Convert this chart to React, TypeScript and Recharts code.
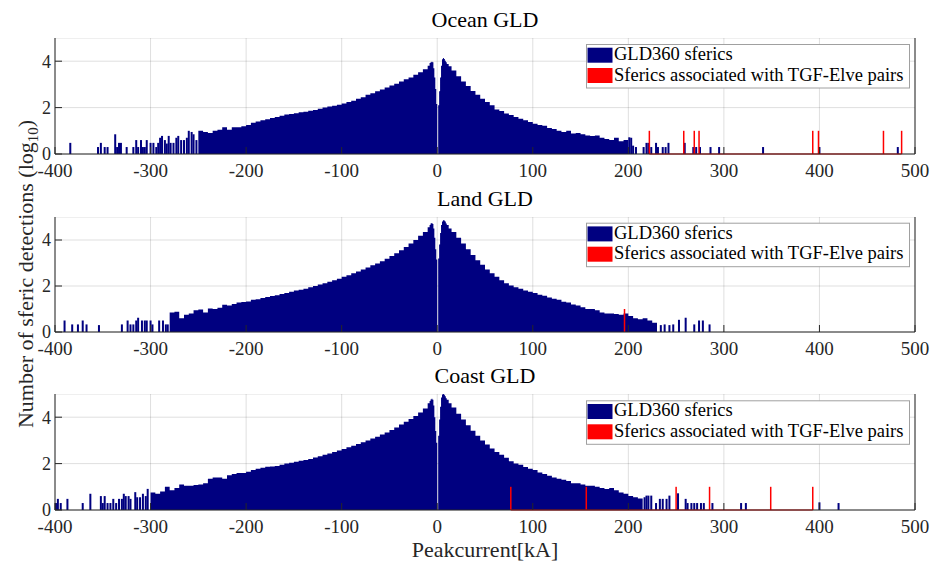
import React from "react";
import { ComposedChart, Area, Bar, XAxis, YAxis, CartesianGrid, ReferenceLine } from "recharts";

const NAVY = "#000080";
const RED = "#ff0000";
const INK = "#262626";
const FONT = '"Liberation Serif", "Times New Roman", serif';

const xTicks = [-400, -300, -200, -100, 0, 100, 200, 300, 400, 500];
const yTicks = [0, 2, 4];

// left edges of the histogram bins for the dense part (kA)
const coreEdges = [
  -300, -295, -290, -285, -280, -275, -270, -265, -260, -255,
  -250, -245, -240, -235, -230, -225, -220, -215, -210, -205,
  -200, -195, -190, -185, -180, -175, -170, -165, -160, -155,
  -150, -145, -140, -135, -130, -125, -120, -115, -110, -105,
  -100, -95, -90, -85, -80, -75, -70, -65, -60, -55,
  -50, -45, -40, -35, -30, -25, -20, -15, -10,
  -8, -7, -6, -5, -4, -3, -2, -1,
  0,
  1, 2, 3, 4, 5, 6, 7, 8, 9, 10,
  12,
  15, 20, 25, 30, 35, 40, 45, 50, 55, 60,
  65, 70, 75, 80, 85, 90, 95, 100, 105, 110,
  115, 120, 125, 130, 135, 140, 145, 150, 155, 160,
  165, 170, 175, 180, 185, 190, 195, 200, 205, 210,
  215, 220, 225, 230,
];

// log10 counts, Ocean GLD
const oceanCore = [
  null, null, null, null, null, null, null, null, null, null,
  1.0, 0.95, 0.9, 1.0, 1.05, 1.15, 1.05, 1.15, 1.15, 1.2,
  1.25, 1.35, 1.4, 1.45, 1.5, 1.55, 1.6, 1.65, 1.7, 1.72,
  1.76, 1.8, 1.82, 1.86, 1.9, 1.95, 2.0, 2.05, 2.08, 2.12,
  2.18, 2.24, 2.3, 2.38, 2.45, 2.55, 2.62, 2.7, 2.78, 2.87,
  2.95, 3.03, 3.12, 3.22, 3.3, 3.42, 3.52, 3.65, 3.8,
  3.92, 3.96, 3.98, 3.95, 3.7, 3.3, 2.8, 2.15,
  0,
  2.1, 2.7, 3.3, 3.8, 4.08, 4.14, 4.1, 4.02, 3.95, 3.88,
  3.78,
  3.6, 3.35, 3.12, 2.93, 2.72, 2.55, 2.38, 2.24, 2.1, 1.92,
  1.85, 1.75, 1.68, 1.6, 1.52, 1.45, 1.38, 1.3, 1.25, 1.22,
  1.12, 1.08, 1.0, 0.95, 1.0, 0.88, 0.9, 0.85, 0.8, 0.78,
  0.8, 0.7, 0.65, 0.6, 0.7, 0.55, 0.6, 0, null, null,
  null, null, null, null,
];

const oceanTail = [
  [-384, 0.48], [-355, 0.3], [-352, 0.48], [-348, 0.3], [-345, 0.3],
  [-337, 0.85], [-335, 0.3], [-333, 0.48], [-331, 0.48], [-325, 0.3],
  [-318, 0.3], [-315, 0.6], [-313, 0.3], [-310, 0.6], [-308, 0.3],
  [-306, 0.3], [-304, 0.6], [-300, 0.48], [-297, 0.48], [-294, 0.3],
  [-292, 0.48], [-290, 0.7], [-288, 0.78], [-285, 0.6], [-283, 0.45],
  [-281, 0.78], [-279, 0.48], [-276, 0.48], [-273, 0.7], [-271, 0.78],
  [-268, 0.6], [-265, 0.6], [-262, 0.7], [-260, 1.0], [-257, 0.95],
  [-255, 0.85], [-252, 0.6],
  [201, 0.72], [203, 0.7], [205, 0.36], [208, 0.3], [216, 0.3],
  [219, 0.48], [221, 0.48], [224, 0.3], [229, 0.48], [231, 0.3],
  [236, 0.3], [239, 0.3], [242, 0.48], [259, 0.48], [268, 0.3],
  [271, 0.3], [275, 0.3], [286, 0.3], [295, 0.3], [341, 0.3],
  [400, 0.3], [482, 0.3],
];

const oceanTgf = [
  [222, 1], [258, 1], [269, 1], [274, 1], [393, 1], [399, 1], [467, 1], [486, 1],
];

// Land GLD
const landCore = [
  null, null, null, null, 0.85, 0.88, 0.6, 0.75, 0.8, 0.95,
  0.98, 0.85, 1.02, 1.0, 1.05, 1.18, 1.15, 1.22, 1.28, 1.3,
  1.33, 1.4, 1.42, 1.48, 1.52, 1.56, 1.6, 1.65, 1.7, 1.75,
  1.8, 1.84, 1.88, 1.95, 2.0, 2.06, 2.12, 2.18, 2.25, 2.32,
  2.4, 2.47, 2.55, 2.63, 2.72, 2.8, 2.9, 2.98, 3.08, 3.18,
  3.3, 3.42, 3.55, 3.7, 3.85, 4.0, 4.18, 4.35, 4.55,
  4.65, 4.72, 4.74, 4.7, 4.5, 4.1, 3.6, 3.15,
  0,
  3.2, 3.8, 4.3, 4.65, 4.8, 4.86, 4.85, 4.8, 4.72, 4.65,
  4.5,
  4.35, 4.1, 3.85, 3.6, 3.35, 3.12, 2.92, 2.72, 2.55, 2.4,
  2.25, 2.12, 2.02, 1.95, 1.88, 1.8, 1.75, 1.7, 1.62, 1.58,
  1.5, 1.45, 1.4, 1.32, 1.28, 1.2, 1.15, 1.08, 1.0, 1.0,
  0.95, 0.85, 0.8, 0.8, 0.78, 0.75, 0.8, 0.7, 0.6, 0.55,
  0.6, 0.5, 0.4, 0,
];

const landTail = [
  [-390, 0.5], [-382, 0.33], [-376, 0.33], [-371, 0.5], [-367, 0.33],
  [-354, 0.3], [-330, 0.33], [-324, 0.5], [-321, 0.33], [-318, 0.33],
  [-315, 0.5], [-313, 0.62], [-309, 0.5], [-306, 0.5], [-304, 0.5],
  [-300, 0.5], [-298, 0.33], [-291, 0.5], [-287, 0.5], [-284, 0.33],
  [-282, 0.33],
  [234, 0.3], [238, 0.33], [243, 0.3], [247, 0.33], [253, 0.53],
  [260, 0.62], [269, 0.33], [274, 0.5], [278, 0.5], [285, 0.33],
];

const landTgf = [[196, 1]];

// Coast GLD
const coastCore = [
  0.75, 0.7, 0.8, 1.0, 0.85, 0.95, 1.1, 1.05, 1.05, 1.08,
  1.1, 1.15, 1.35, 1.4, 1.4, 1.35, 1.5, 1.55, 1.6, 1.6,
  1.65, 1.72, 1.78, 1.82, 1.86, 1.88, 1.9, 1.95, 2.0, 2.04,
  2.08, 2.12, 2.16, 2.2, 2.26, 2.32, 2.38, 2.43, 2.5, 2.57,
  2.63, 2.7, 2.77, 2.84, 2.92, 3.0, 3.08, 3.16, 3.25, 3.34,
  3.45, 3.56, 3.68, 3.8, 3.92, 4.05, 4.2, 4.38, 4.6,
  4.7, 4.76, 4.8, 4.75, 4.5, 4.0, 3.4, 2.9,
  0,
  3.2, 3.9, 4.45, 4.85, 4.98, 5.0, 4.97, 4.9, 4.82, 4.75,
  4.6,
  4.42, 4.15, 3.9, 3.65, 3.42, 3.2, 3.0, 2.82, 2.65, 2.5,
  2.38, 2.25, 2.1, 2.0, 1.95, 1.85, 1.78, 1.72, 1.62, 1.55,
  1.48, 1.4, 1.35, 1.3, 1.25, 1.15, 1.15, 1.1, 1.05, 1.05,
  1.0, 0.95, 0.9, 0.95, 0.85, 0.75, 0.7, 0.6, 0.55, 0.5,
  0, null, null, null,
];

const coastTail = [
  [-399, 0.3], [-397, 0.48], [-394, 0.3], [-387, 0.48], [-371, 0.3],
  [-363, 0.7], [-352, 0.6], [-350, 0.3], [-348, 0.6], [-345, 0.3],
  [-342, 0.3], [-339, 0.48], [-336, 0.3], [-333, 0.48], [-330, 0.48],
  [-328, 0.7], [-326, 0.6], [-323, 0.6], [-321, 0.48], [-316, 0.77],
  [-314, 0.55], [-311, 0.55], [-308, 0.7], [-305, 0.6], [-303, 0.91],
  [217, 0.55], [219, 0.62], [221, 0.62], [224, 0.62], [229, 0.3],
  [233, 0.48], [236, 0.48], [240, 0.48], [243, 0.62], [252, 0.72],
  [260, 0.48], [262, 0.3], [266, 0.3], [269, 0.3], [272, 0.3],
  [276, 0.3], [279, 0.3], [288, 0.3], [318, 0.3], [323, 0.3],
  [400, 0.33], [420, 0.3],
];

const coastTgf = [[77, 1], [156, 1], [250, 1], [285, 1], [349, 1], [393, 1]];

// merge the three series into one table sorted by peak current
function buildRows(core: (number | null)[], tail: number[][], tgf: number[][]) {
  const rows: any[] = [];
  coreEdges.forEach((x, i) => {
    if (core[i] !== null) rows.push({ x, core: core[i] });
  });
  tail.forEach(([x, v]) => rows.push({ x, tail: v }));
  tgf.forEach(([x, v]) => rows.push({ x, tgf: v }));
  return rows.sort((a, b) => a.x - b.x);
}

// thin bar centred on the bin, the library computes x/y/height
const thinBar = (w: number) => (props: any) => {
  const { x, y, width, height, fill } = props;
  if (!height || height <= 0 || x == null) return <g />;
  return <rect x={x + width / 2 - w / 2} y={y} width={w} height={height} fill={fill} />;
};

const xTickStyle = { fill: INK, fontSize: 19, fontFamily: FONT };
const yTickStyle = { fill: INK, fontSize: 18, fontFamily: FONT };

function Panel({ top, plotHeight, core, tail, tgf }: any) {
  const rows = buildRows(core, tail, tgf);
  const redXs = tgf.map((d: number[]) => d[0]);
  const lo = Math.min(...redXs);
  const hi = Math.max(...redXs);
  return (
    <div style={{ position: "absolute", left: 0, top }}>
      <ComposedChart width={940} height={plotHeight + 30} data={rows} margin={{ top: 0, right: 0, bottom: 0, left: 0 }}>
        <XAxis
          dataKey="x"
          type="number"
          domain={[-400, 500]}
          ticks={xTicks}
          interval={0}
          tickSize={-7}
          tickMargin={17}
          height={30}
          stroke={INK}
          tick={xTickStyle}
        />
        <XAxis
          xAxisId="top"
          orientation="top"
          type="number"
          domain={[-400, 500]}
          ticks={xTicks}
          interval={0}
          tickSize={-7}
          tick={false}
          height={0}
          stroke={INK}
        />
        <YAxis
          type="number"
          domain={[0, 5]}
          ticks={yTicks}
          interval={0}
          tickSize={-7}
          tickMargin={11}
          width={55}
          stroke={INK}
          tick={yTickStyle}
        />
        <YAxis
          yAxisId="right"
          orientation="right"
          type="number"
          domain={[0, 5]}
          ticks={yTicks}
          interval={0}
          tickSize={-7}
          tick={false}
          width={25}
          stroke={INK}
        />
        <Area
          dataKey="core"
          type="stepAfter"
          fill={NAVY}
          fillOpacity={1}
          stroke="none"
          connectNulls
          isAnimationActive={false}
        />
        <Bar dataKey="tail" stackId="s" fill={NAVY} shape={thinBar(2)} isAnimationActive={false} />
        <Bar dataKey="tgf" stackId="s" fill={RED} shape={thinBar(1.5)} isAnimationActive={false} />
        <CartesianGrid stroke={INK} strokeOpacity={0.15} />
        {hi > lo && (
          <ReferenceLine segment={[{ x: lo, y: 0 }, { x: hi, y: 0 }]} stroke={RED} strokeWidth={1.2} />
        )}
      </ComposedChart>
    </div>
  );
}

function LegendBox({ top }: { top: number }) {
  return (
    <g transform={`translate(586, ${top})`}>
      <rect x={0.5} y={0.5} width={323} height={43.5} fill="#fff" stroke="#a0a0a0" strokeWidth={1} />
      <rect x={1.5} y={3.7} width={25} height={15} fill={NAVY} />
      <rect x={1.5} y={24} width={25} height={15} fill={RED} />
      <text x={28} y={16} fontSize={18.5} fontFamily={FONT} fill="#000">GLD360 sferics</text>
      <text x={28} y={36.7} fontSize={18.5} fontFamily={FONT} fill="#000">Sferics associated with TGF-Elve pairs</text>
    </g>
  );
}

export default function App() {
  return (
    <div style={{ position: "absolute", left: 0, top: 0, width: 940, height: 562, background: "#fff", overflow: "hidden" }}>
      <Panel top={37.5} plotHeight={116} core={oceanCore} tail={oceanTail} tgf={oceanTgf} />
      <Panel top={216.5} plotHeight={115} core={landCore} tail={landTail} tgf={landTgf} />
      <Panel top={393.5} plotHeight={116} core={coastCore} tail={coastTail} tgf={coastTgf} />
      <svg width={940} height={562} style={{ position: "absolute", left: 0, top: 0, pointerEvents: "none" }}>
        <g fontFamily={FONT} textAnchor="middle">
          <text x={485} y={27} fontSize={22} fill="#000">Ocean GLD</text>
          <text x={485} y={205.5} fontSize={22} fill="#000">Land GLD</text>
          <text x={485} y={382.5} fontSize={22} fill="#000">Coast GLD</text>
          <text x={485} y={556.5} fontSize={22} fill={INK}>Peakcurrent[kA]</text>
          <text x={33} y={274} fontSize={22} fill={INK} transform="rotate(-90 33 274)">
            <tspan>Number of sferic detections (log</tspan>
            <tspan fontSize={15} dy={5}>10</tspan>
            <tspan dy={-5}>)</tspan>
          </text>
        </g>
        <LegendBox top={44} />
        <LegendBox top={222.7} />
        <LegendBox top={400.3} />
      </svg>
    </div>
  );
}
